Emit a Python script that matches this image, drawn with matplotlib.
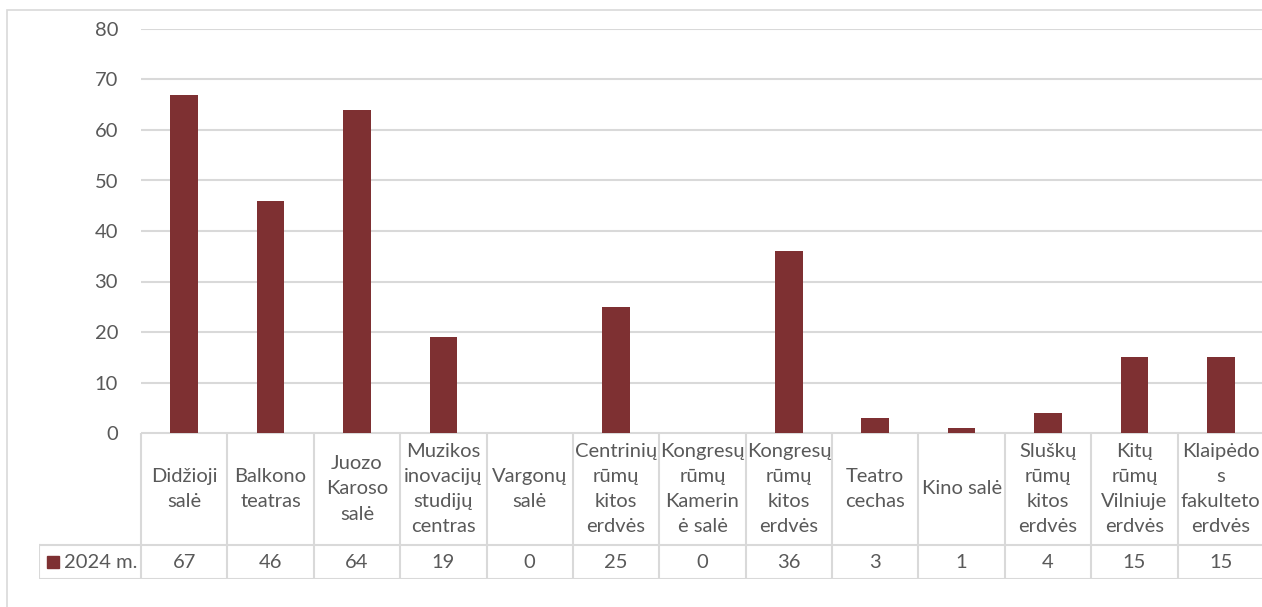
import matplotlib
matplotlib.use("Agg")
import matplotlib.pyplot as plt
from matplotlib.patches import Rectangle
import numpy as np

plt.rcParams["font.family"] = ["Lato", "DejaVu Sans"]

categories = [
    "Didžioji\nsalė", "Balkono\nteatras", "Juozo\nKaroso\nsalė",
    "Muzikos\ninovacijų\nstudijų\ncentras", "Vargonų\nsalė",
    "Centrinių\nrūmų\nkitos\nerdvės", "Kongresų\nrūmų\nKamerin\nė salė",
    "Kongresų\nrūmų\nkitos\nerdvės", "Teatro\ncechas", "Kino salė",
    "Sluškų\nrūmų\nkitos\nerdvės", "Kitų\nrūmų\nVilniuje\nerdvės",
    "Klaipėdo\ns\nfakulteto\nerdvės",
]
values_2024 = [67, 46, 64, 19, 0, 25, 0, 36, 3, 1, 4, 15, 15]
series_label = "2024 m."
yticks = [0, 10, 20, 30, 40, 50, 60, 70, 80]

BAR = "#7E3032"
GRID = "#D9D9D9"
TXT = "#595959"
W, H = 1262, 607
FS = 14.5

fig = plt.figure(figsize=(W / 100, H / 100), dpi=100)

# outer chart border
fig.patches.append(Rectangle((7 / W, -0.1), 1.2, (H - 10) / H + 0.1,
                             transform=fig.transFigure, fill=False,
                             edgecolor=GRID, linewidth=1.2))


def px_axes(x0, y0, x1, y1):
    return fig.add_axes([x0 / W, 1 - y1 / H, (x1 - x0) / W, (y1 - y0) / H])


# main plot
ax = px_axes(141, 29, 1264, 433)
x = np.arange(len(categories))
ax.bar(x, values_2024, width=0.32, color=BAR, zorder=3)
ax.set_xlim(-0.5, len(categories) - 0.5)
ax.set_ylim(0, 80)
ax.set_yticks(yticks)
ax.set_xticks([])
ax.tick_params(axis="y", length=0, pad=16.5, labelsize=FS, labelcolor=TXT)
ax.yaxis.grid(True, color=GRID, linewidth=1.5, zorder=0)
for s in ax.spines.values():
    s.set_visible(False)

# data table under the plot
unit = (1264 - 141) / len(categories)
leg_w = (141 - 39) / unit
tax = px_axes(39, 433, 1264, 579)
tax.set_xlim(-0.5 - leg_w, len(categories) - 0.5)
tax.set_ylim(0, 146)
tax.axis("off")
lw = 1.5
tax.plot([-0.5, len(categories) - 0.5], [146, 146], color=GRID, lw=lw)
for yy in (34, 0):
    tax.plot([-0.5 - leg_w, len(categories) - 0.5], [yy, yy], color=GRID, lw=lw)
for i in range(len(categories) + 1):
    tax.plot([i - 0.5, i - 0.5], [0, 146], color=GRID, lw=lw)
tax.plot([-0.5 - leg_w, -0.5 - leg_w], [0, 34], color=GRID, lw=lw)

for i, (lab, v) in enumerate(zip(categories, values_2024)):
    tax.text(i, 90, lab, ha="center", va="center", fontsize=FS, color=TXT,
             linespacing=1.58)
    tax.text(i, 17, str(v), ha="center", va="center", fontsize=FS, color=TXT)

sq = 12 / unit
tax.add_patch(Rectangle((-0.5 - leg_w + 8 / unit, 11), sq, 12, color=BAR))
tax.text(-0.5 - leg_w + 25 / unit, 17, series_label, ha="left", va="center",
         fontsize=FS, color=TXT)

fig.savefig("out.png", dpi=100)
